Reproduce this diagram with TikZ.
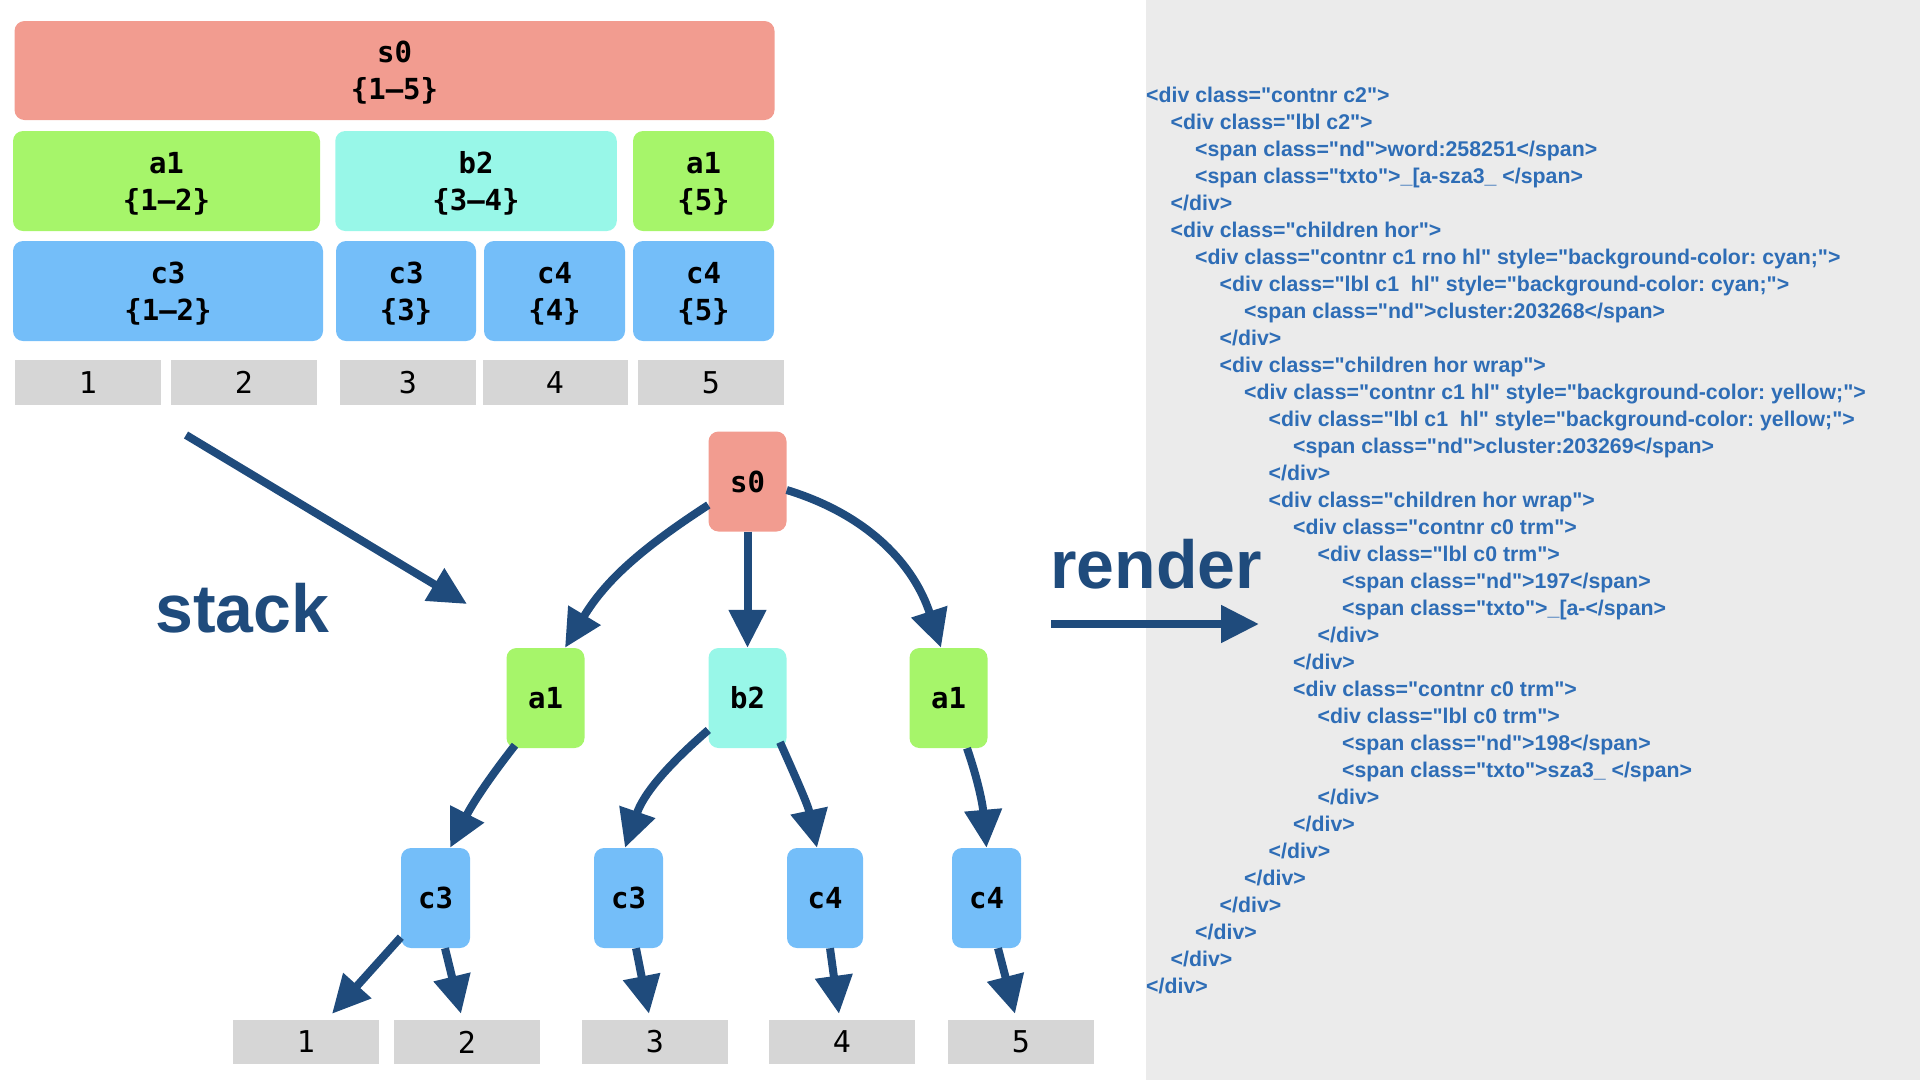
\documentclass[tikz,border=0pt]{standalone}
\usepackage{fontspec}
\setmainfont{Liberation Sans}
\newfontfamily\codefont{Liberation Sans}
\newfontfamily\monofont{DejaVu Sans Mono}
\usetikzlibrary{arrows.meta}

\begin{document}
\begin{tikzpicture}[x=1pt, y=1pt,
	blk/.style={rounded corners=10pt, inner sep=0pt, align=center, text depth=0pt, font=\monofont\bfseries\fontsize{29}{37}\selectfont},
	cell/.style={fill=cellgray, inner sep=0pt, minimum height=45pt, font=\monofont\fontsize{30}{30}\selectfont},
	tnode/.style={rounded corners=10pt, inner sep=0pt, minimum width=78pt, minimum height=100pt, font=\monofont\bfseries\fontsize{29}{29}\selectfont},
	edge/.style={draw=navy, line width=8pt, -{Triangle[length=38pt,width=36pt]}},
	codeline/.style={anchor=base west, inner sep=0pt, text=codeblue, font=\codefont\bfseries\fontsize{21.3}{27}\selectfont\frenchspacing},
	biglabel/.style={anchor=base, inner sep=0pt, text=navy, font=\bfseries\fontsize{68}{68}\selectfont}]

	% Define colors
	\definecolor{salmon}{RGB}{242,156,144}
	\definecolor{lime}{RGB}{166,245,106}
	\definecolor{mint}{RGB}{152,247,232}
	\definecolor{sky}{RGB}{116,190,249}
	\definecolor{cellgray}{RGB}{214,214,214}
	\definecolor{panelgray}{RGB}{235,235,235}
	\definecolor{navy}{RGB}{31,75,124}
	\definecolor{codeblue}{RGB}{46,109,182}

	\useasboundingbox (0,0) rectangle (1920,-1080);

	% Draw the code panel
	\fill[panelgray] (1146,0) rectangle (1920,-1080);

	% Draw the stacked blocks
	\node[blk, fill=salmon, minimum width=760pt, minimum height=99pt] (s0blk) at (394.5,-70.5) {s0\\\{1–5\}};
	\node[blk, fill=lime, minimum width=307pt, minimum height=100pt] (a1blk) at (166.5,-181) {a1\\\{1–2\}};
	\node[blk, fill=mint, minimum width=281.5pt, minimum height=100pt] (b2blk) at (476,-181) {b2\\\{3–4\}};
	\node[blk, fill=lime, minimum width=141pt, minimum height=100pt] (a1blkb) at (703.5,-181) {a1\\\{5\}};
	\node[blk, fill=sky, minimum width=310pt, minimum height=100pt] (c3blk) at (168,-291) {c3\\\{1–2\}};
	\node[blk, fill=sky, minimum width=140pt, minimum height=100pt] (c3blkb) at (406,-291) {c3\\\{3\}};
	\node[blk, fill=sky, minimum width=141pt, minimum height=100pt] (c4blk) at (554.5,-291) {c4\\\{4\}};
	\node[blk, fill=sky, minimum width=141pt, minimum height=100pt] (c4blkb) at (703.5,-291) {c4\\\{5\}};

	% Draw the cells under the blocks
	\foreach \x/\w/\n in {88/146/1, 244/146/2, 408/136/3, 555/145/4, 711/146/5} {
		\node[cell, minimum width=\w pt] (top\n) at (\x,-382.5) {\n};
	}

	% Draw the tree
	\node[tnode, fill=salmon] (s0) at (747.5,-481.5) {s0};
	\node[tnode, fill=lime] (a1l) at (545.5,-698) {a1};
	\node[tnode, fill=mint] (b2) at (747.5,-698) {b2};
	\node[tnode, fill=lime] (a1r) at (948.5,-698) {a1};
	\node[tnode, fill=sky, minimum width=69pt] (c3l) at (435.5,-898) {c3};
	\node[tnode, fill=sky, minimum width=69pt] (c3r) at (628.5,-898) {c3};
	\node[tnode, fill=sky, minimum width=76pt] (c4l) at (825,-898) {c4};
	\node[tnode, fill=sky, minimum width=69pt] (c4r) at (986.5,-898) {c4};

	% Draw the cells under the tree
	\foreach \x/\n in {306/1, 467/2, 655/3, 842/4, 1021/5} {
		\node[cell, minimum width=146pt, minimum height=44pt] (bot\n) at (\x,-1042) {\n};
	}

	% Draw the tree edges
	\draw[edge] ([yshift=-23.5pt]s0.west) to[out=213,in=59] ([xshift=19.5pt]a1l.north);
	\draw[edge] (s0.south) -- (b2.north);
	\draw[edge] ([yshift=-8.5pt]s0.east) to[out=-17,in=108] ([xshift=-7.5pt]a1r.north);
	\draw[edge] ([xshift=-30.5pt,yshift=3pt]a1l.south) to[out=232,in=63] ([xshift=14.5pt]c3l.north);
	\draw[edge] ([yshift=-32pt]b2.west) to[out=221,in=71] ([xshift=-3.5pt]c3r.north);
	\draw[edge] ([xshift=32.5pt,yshift=6pt]b2.south) to[out=-66,in=102] ([xshift=-8pt]c4l.north);
	\draw[edge] ([xshift=18.5pt]a1r.south) to[out=-71,in=95] (c4r.north);
	\draw[edge] ([yshift=11pt]c3l.south west) -- ([xshift=26pt,yshift=6pt]bot1.north);
	\draw[edge] ([xshift=9.5pt]c3l.south) -- ([xshift=-6pt,yshift=6pt]bot2.north);
	\draw[edge] ([xshift=7.5pt]c3r.south) -- ([xshift=-6pt,yshift=6pt]bot3.north);
	\draw[edge] ([xshift=5pt]c4l.south) -- ([xshift=-3pt,yshift=6pt]bot4.north);
	\draw[edge] ([xshift=11.5pt]c4r.south) -- ([xshift=-6pt,yshift=6pt]bot5.north);

	% Draw the stack arrow
	\coordinate (stackfrom) at (186,-435);
	\coordinate (stackto) at (467,-604);
	\draw[edge] (stackfrom) -- (stackto);
	\node[biglabel] (stacklbl) at (242.5,-632) {stack};

	% Draw the render arrow
	\coordinate (renderfrom) at (1051,-624);
	\coordinate (renderto) at (1259,-624);
	\draw[edge] (renderfrom) -- (renderto);
	\node[biglabel] (renderlbl) at (1156,-588) {render};

	% Draw the code lines
	\foreach \lvl/\src [count=\i] in {
		0/{<div class="contnr c2">},
		1/{<div class="lbl c2">},
		2/{<span class="nd">word:258251</span>},
		2/{<span class="txto">\_[a-sza3\_ </span>},
		1/{</div>},
		1/{<div class="children hor">},
		2/{<div class="contnr c1 rno hl" style="background-color: cyan;">},
		3/{<div class="lbl c1\ \ hl" style="background-color: cyan;">},
		4/{<span class="nd">cluster:203268</span>},
		3/{</div>},
		3/{<div class="children hor wrap">},
		4/{<div class="contnr c1 hl" style="background-color: yellow;">},
		5/{<div class="lbl c1\ \ hl" style="background-color: yellow;">},
		6/{<span class="nd">cluster:203269</span>},
		5/{</div>},
		5/{<div class="children hor wrap">},
		6/{<div class="contnr c0 trm">},
		7/{<div class="lbl c0 trm">},
		8/{<span class="nd">197</span>},
		8/{<span class="txto">\_[a-</span>},
		7/{</div>},
		6/{</div>},
		6/{<div class="contnr c0 trm">},
		7/{<div class="lbl c0 trm">},
		8/{<span class="nd">198</span>},
		8/{<span class="txto">sza3\_ </span>},
		7/{</div>},
		6/{</div>},
		5/{</div>},
		4/{</div>},
		3/{</div>},
		2/{</div>},
		1/{</div>},
		0/{</div>}} {
		\node[codeline] (line\i) at (1146+24.5*\lvl, -75-27*\i) {\src};
	}

\end{tikzpicture}
\end{document}
